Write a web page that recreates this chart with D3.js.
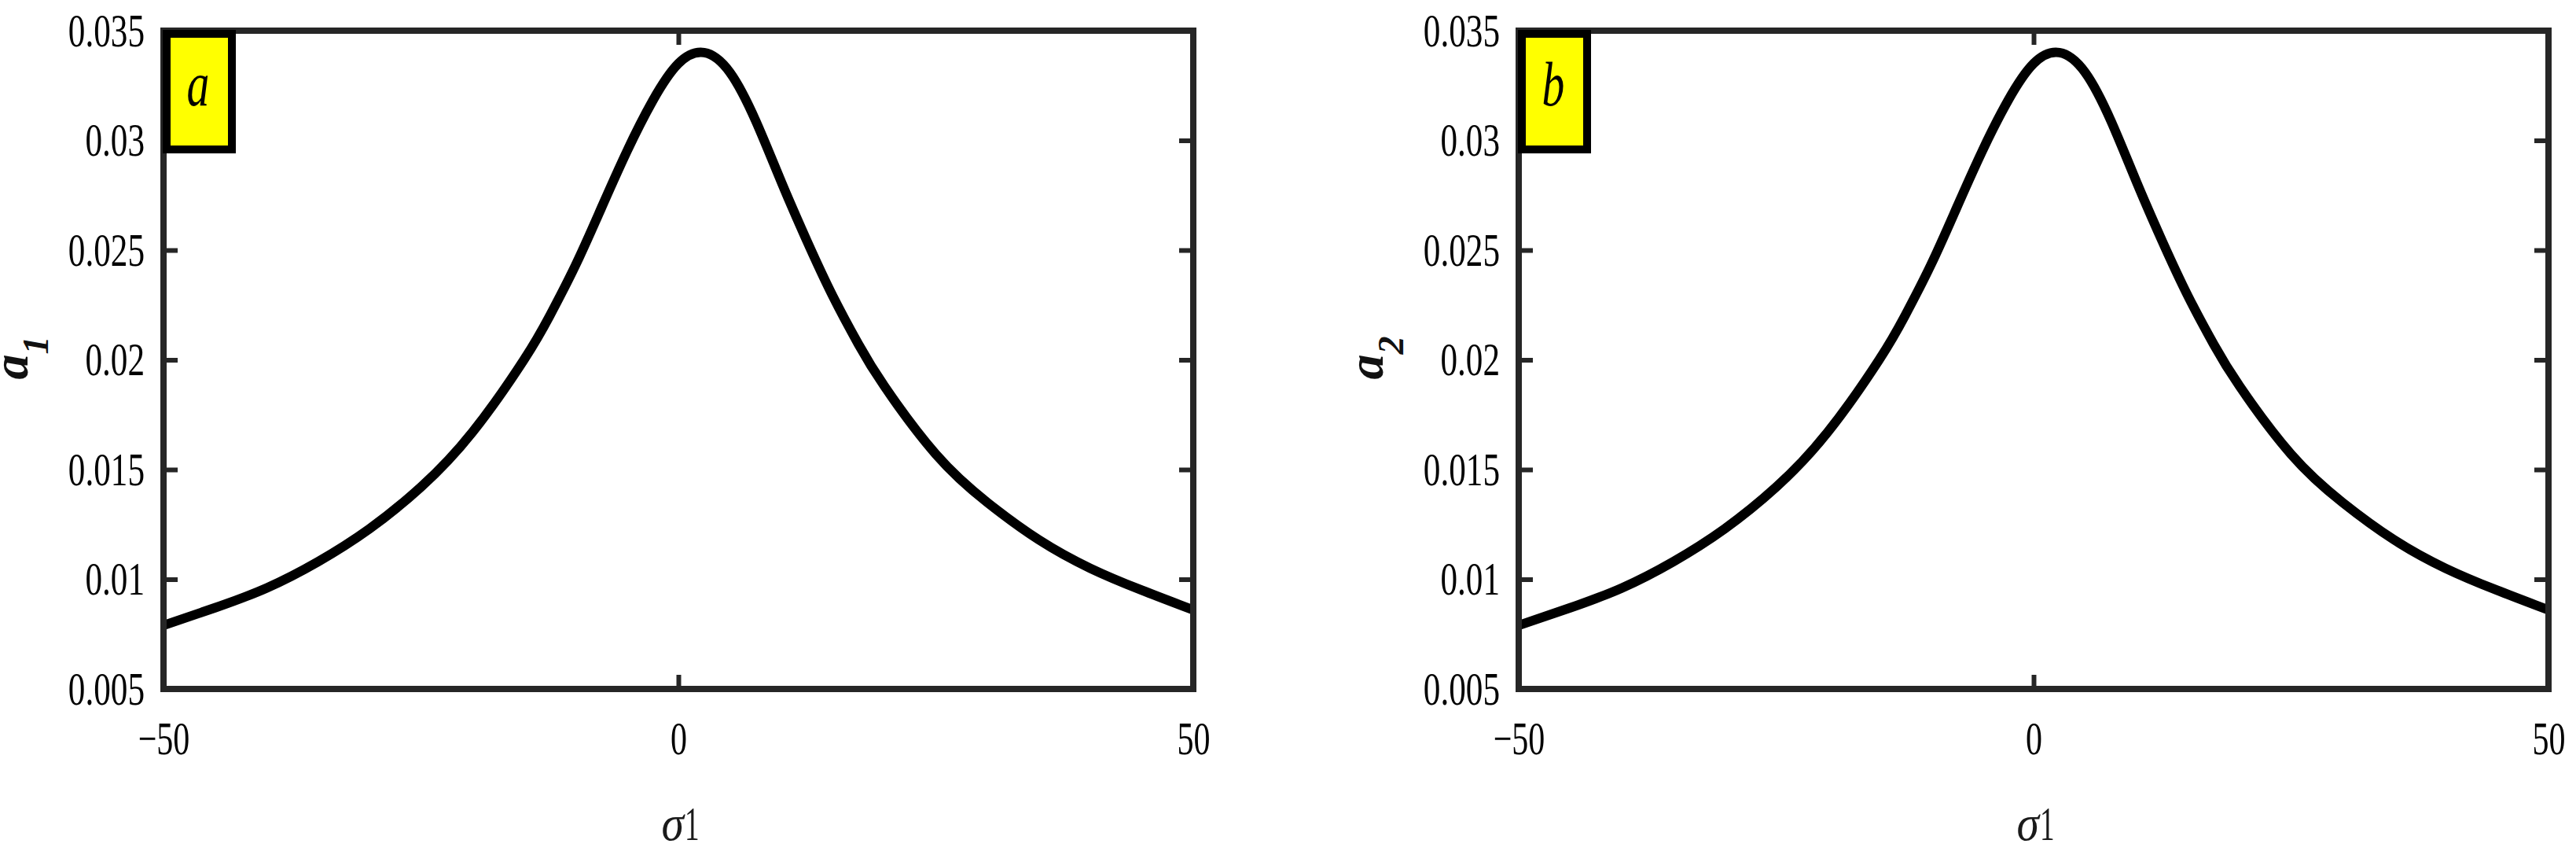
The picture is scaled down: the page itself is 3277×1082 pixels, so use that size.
<!DOCTYPE html>
<html>
<head>
<meta charset="utf-8">
<script src="https://cdn.jsdelivr.net/npm/d3@7"></script>
<style>
  body { margin: 0; background: #fff; }
  text { font-family: 'Liberation Serif', 'Times New Roman', serif; }
</style>
</head>
<body>
<div id="chart"></div>
<script>
// Values
const sigma = [-50, -45, -40, -35, -30, -25, -20, -15, -12.5, -10, -7.5, -5, -2.5, 0, 2.5, 5, 7.5, 10, 12.5, 15, 17.5, 20, 25, 30, 35, 40, 45, 50]
const a1 = [0.0079, 0.0087, 0.0096, 0.0108, 0.0123, 0.0142, 0.0167, 0.0200, 0.0220, 0.0243, 0.0269, 0.0295, 0.0318, 0.0335, 0.0340, 0.0331, 0.0309, 0.0281, 0.0254, 0.0229, 0.0207, 0.0188, 0.0157, 0.0135, 0.0118, 0.0105, 0.0095, 0.0086]
const a2 = [0.0079, 0.0087, 0.0096, 0.0108, 0.0123, 0.0142, 0.0167, 0.0200, 0.0220, 0.0243, 0.0269, 0.0295, 0.0318, 0.0335, 0.0340, 0.0331, 0.0309, 0.0281, 0.0254, 0.0229, 0.0207, 0.0188, 0.0157, 0.0135, 0.0118, 0.0105, 0.0095, 0.0086]
const xTicks = [-50, 0, 50]
const yTicks = [0.005, 0.01, 0.015, 0.02, 0.025, 0.03, 0.035]
const yTickLabels = ['0.005', '0.01', '0.015', '0.02', '0.025', '0.03', '0.035']

// Sizes
const w = 3277
const h = 1082
const plotW = 1310
const plotH = 837
const plotTop = 39
const axisColor = '#262626'

const svg = d3.select('#chart').append('svg')
  .attr('width', w)
  .attr('height', h)

// The original text is horizontally squeezed
function narrow(sel, k) {
  sel.each(function () {
    const len = this.getComputedTextLength()
    d3.select(this)
      .attr('textLength', len * k)
      .attr('lengthAdjust', 'spacingAndGlyphs')
  })
}

function drawPanel(left, tag, sub, values) {
  const x = d3.scaleLinear().domain([-50, 50]).range([0, plotW])
  const y = d3.scaleLinear().domain([0.005, 0.035]).range([plotH, 0])

  const g = svg.append('g')
    .attr('transform', `translate(${left}, ${plotTop})`)

  const data = sigma.map((s, i) => [s, values[i]])

  // Curve
  g.append('path')
    .datum(data)
    .attr('fill', 'none')
    .attr('stroke', '#000')
    .attr('stroke-width', 12)
    .attr('d', d3.line()
      .x(d => x(d[0]))
      .y(d => y(d[1]))
      .curve(d3.curveNatural))

  // Axes with inward ticks
  const bottom = g.append('g')
    .attr('transform', `translate(0, ${plotH})`)
    .call(d3.axisBottom(x).tickValues(xTicks).tickSizeInner(-18).tickSizeOuter(0).tickPadding(40))
  const top = g.append('g')
    .call(d3.axisTop(x).tickValues(xTicks).tickSizeInner(-18).tickSizeOuter(0).tickFormat(''))
  const leftAxis = g.append('g')
    .call(d3.axisLeft(y).tickValues(yTicks).tickSizeInner(-18).tickSizeOuter(0).tickPadding(24)
      .tickFormat((d, i) => yTickLabels[i]))
  const rightAxis = g.append('g')
    .attr('transform', `translate(${plotW}, 0)`)
    .call(d3.axisRight(y).tickValues(yTicks).tickSizeInner(-18).tickSizeOuter(0).tickFormat(''))

  ;[bottom, top, leftAxis, rightAxis].forEach(a => {
    a.attr('font-family', null).attr('font-size', 60)
    a.select('.domain').remove()
    a.selectAll('.tick line').attr('stroke', axisColor).attr('stroke-width', 6)
    a.selectAll('.tick text').attr('fill', '#000')
  })
  narrow(bottom.selectAll('.tick text'), 0.7)
  narrow(leftAxis.selectAll('.tick text'), 0.72)

  // Frame
  g.append('rect')
    .attr('width', plotW)
    .attr('height', plotH)
    .attr('fill', 'none')
    .attr('stroke', axisColor)
    .attr('stroke-width', 8)

  // Panel tag box
  g.append('rect')
    .attr('x', 4)
    .attr('y', 4)
    .attr('width', 83)
    .attr('height', 147)
    .attr('fill', '#ffff00')
    .attr('stroke', '#000')
    .attr('stroke-width', 10)
  g.append('text')
    .attr('x', 44)
    .attr('y', 95)
    .attr('text-anchor', 'middle')
    .attr('font-size', 80)
    .attr('font-style', 'italic')
    .attr('fill', '#000')
    .text(tag)
    .call(narrow, 0.72)

  // x title, sigma in italic followed by an upright 1
  g.append('text')
    .attr('x', 662)
    .attr('y', 1029)
    .attr('text-anchor', 'end')
    .attr('font-size', 64)
    .attr('font-style', 'italic')
    .attr('fill', '#1a1a1a')
    .text('σ')
    .call(narrow, 0.9)
  g.append('text')
    .attr('x', 663)
    .attr('y', 1029)
    .attr('font-size', 62)
    .attr('fill', '#1a1a1a')
    .text('1')
    .call(narrow, 0.6)

  // y title
  const yt = g.append('text')
    .attr('transform', `translate(-173, 416) rotate(-90)`)
    .attr('text-anchor', 'middle')
    .attr('font-size', 64)
    .attr('font-weight', 'bold')
    .attr('font-style', 'italic')
    .attr('fill', '#111')
  yt.append('tspan').text('a')
  yt.append('tspan').attr('font-size', 46).attr('dy', 26).text(sub)
}

drawPanel(208, 'a', '1', a1)
drawPanel(1932, 'b', '2', a2)
</script>
</body>
</html>
